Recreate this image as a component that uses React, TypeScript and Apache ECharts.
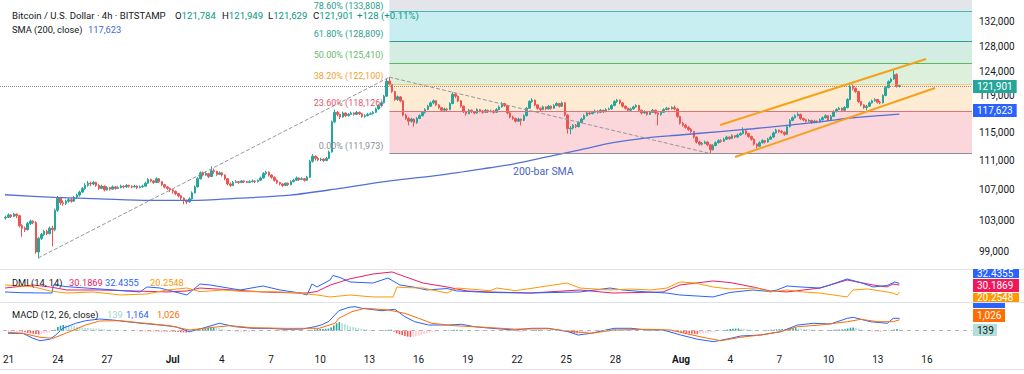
import React, { useEffect, useRef } from "react";
import * as echarts from "echarts";

// ---------- data ----------
// BTC/USD 4h candles. First candle: 21 Jun 00:00, one candle every 4 hours.
// Days are counted from "0 Jun" (1 Jul = 31, 1 Aug = 62).
const FIRST_CANDLE_DAY = 21;
const CANDLE_STEP_DAYS = 1 / 6;
// [open, close, low, high] in thousand USD
const candles: number[][] = [
  [103.3,103.4,103.1,103.6],[103.4,103.7,103.3,103.9],[103.7,103.5,103.3,103.8],[103.5,103.8,103.4,104.0],[103.8,103.6,103.3,103.9],[103.6,102.3,102.1,103.7],
  [102.3,102.0,100.9,102.5],[102.0,101.8,101.5,102.2],[101.8,102.6,101.7,102.8],[102.6,102.9,102.4,103.1],[102.9,102.7,102.5,103.0],[102.7,99.0,98.8,102.9],
  [99.0,100.7,98.2,100.9],[100.7,101.2,100.5,101.4],[101.2,101.6,101.0,101.8],[101.6,101.3,101.1,101.8],[101.3,102.0,101.2,102.2],[102.0,101.8,99.7,102.3],
  [101.8,104.3,101.6,104.5],[104.3,105.9,104.1,106.2],[105.9,105.3,105.0,106.0],[105.3,105.2,104.9,105.6],[105.2,105.5,105.0,105.7],[105.5,105.7,105.3,105.9],
  [105.7,105.5,105.3,105.9],[105.5,106.0,105.4,106.2],[106.0,106.3,105.8,106.5],[106.3,106.7,106.1,106.9],[106.7,107.2,106.6,107.4],[107.2,107.6,107.0,107.9],
  [107.6,107.9,107.4,108.2],[107.9,107.8,107.5,108.1],[107.8,108.0,107.6,108.2],[108.0,107.6,107.4,108.1],[107.6,107.2,107.0,107.8],[107.2,107.5,107.1,107.7],
  [107.5,107.0,106.8,107.6],[107.0,107.3,106.9,107.5],[107.3,107.1,106.9,107.4],[107.1,107.4,107.0,107.6],[107.4,107.2,107.0,107.5],[107.2,107.3,107.1,107.5],
  [107.3,107.5,107.2,107.7],[107.5,107.4,107.2,107.6],[107.4,107.6,107.3,107.8],[107.6,107.5,107.3,107.7],[107.5,107.4,107.2,107.6],[107.4,107.5,107.3,107.7],
  [107.5,107.3,107.1,107.6],[107.3,107.4,107.2,107.6],[107.4,107.5,107.3,107.7],[107.5,107.9,107.4,108.1],[107.9,108.4,107.8,108.6],[108.4,108.2,108.0,108.5],
  [108.2,108.0,107.8,108.3],[108.0,108.5,107.9,108.7],[108.5,108.1,107.9,108.6],[108.1,107.7,107.5,108.2],[107.7,107.4,107.2,107.8],[107.4,107.2,107.0,107.5],
  [107.2,107.0,106.7,107.3],[107.0,106.8,106.5,107.1],[106.8,106.5,106.3,106.9],[106.5,106.2,106.0,106.6],[106.2,105.9,105.6,106.3],[105.9,105.6,105.1,106.0],
  [105.6,105.4,105.1,105.7],[105.4,105.8,105.3,106.0],[105.8,106.6,105.7,106.8],[106.6,107.4,106.5,107.6],[107.4,108.5,107.3,108.7],[108.5,109.3,108.4,109.5],
  [109.3,109.0,108.8,109.5],[109.0,109.2,108.9,109.5],[109.2,108.8,108.6,109.3],[108.8,109.6,108.7,110.2],[109.6,109.5,109.2,109.9],[109.5,109.1,108.9,109.6],
  [109.1,109.3,109.0,109.5],[109.3,109.0,108.8,109.4],[109.0,108.5,108.3,109.1],[108.5,107.8,107.6,108.6],[107.8,107.6,107.4,108.0],[107.6,108.0,107.5,108.2],
  [108.0,108.1,107.9,108.3],[108.1,108.0,107.8,108.2],[108.0,108.2,107.9,108.3],[108.2,108.1,107.9,108.3],[108.1,108.0,107.9,108.2],[108.0,108.1,107.9,108.3],
  [108.1,108.2,108.0,108.4],[108.2,108.1,107.9,108.3],[108.1,108.3,108.0,108.4],[108.3,108.6,108.2,108.8],[108.6,109.2,108.5,109.4],[109.2,109.4,109.0,109.6],
  [109.4,109.0,108.8,109.5],[109.0,108.7,108.5,109.1],[108.7,108.3,108.1,108.8],[108.3,108.0,107.8,108.4],[108.0,107.8,107.6,108.1],[107.8,107.6,107.4,107.9],
  [107.6,107.9,107.5,108.0],[107.9,107.7,107.5,108.0],[107.7,108.1,107.6,108.3],[108.1,108.3,108.0,108.5],[108.3,108.6,108.2,108.8],[108.6,108.4,108.2,108.7],
  [108.4,108.5,108.3,108.7],[108.5,108.3,108.1,108.6],[108.3,108.7,108.2,108.9],[108.7,110.9,108.6,111.1],[110.9,111.6,110.7,111.9],[111.6,111.3,111.0,111.7],
  [111.3,111.1,110.9,111.5],[111.1,111.2,110.9,111.4],[111.2,111.0,110.8,111.3],[111.0,111.3,110.9,111.5],[111.3,112.2,111.2,112.4],[112.2,116.5,112.1,116.7],
  [116.5,117.9,116.3,118.3],[117.9,117.6,117.3,118.1],[117.6,117.2,116.9,117.7],[117.2,117.8,117.1,118.0],[117.8,117.4,117.2,117.9],[117.4,117.6,117.3,117.8],
  [117.6,117.8,117.5,118.0],[117.8,117.6,117.4,117.9],[117.6,117.9,117.5,118.1],[117.9,117.7,117.5,118.0],[117.7,117.3,117.1,117.8],[117.3,117.4,117.1,117.6],
  [117.4,117.6,117.3,117.8],[117.6,117.7,117.5,117.9],[117.7,117.9,117.6,118.1],[117.9,118.4,117.8,118.6],[118.4,118.9,118.3,119.1],[118.9,119.3,118.8,119.5],
  [119.3,120.3,119.2,120.5],[120.3,122.6,120.2,123.0],[122.6,122.1,121.9,123.2],[122.1,121.0,120.8,122.2],[121.0,119.8,119.6,121.1],[119.8,120.2,119.6,120.4],
  [120.2,119.6,119.4,120.3],[119.6,117.5,117.3,119.7],[117.5,117.0,116.8,117.7],[117.0,116.6,116.0,117.2],[116.6,116.9,116.4,117.1],[116.9,116.4,115.8,117.0],
  [116.4,117.0,116.2,117.2],[117.0,117.4,116.9,117.6],[117.4,117.9,117.3,118.1],[117.9,118.3,117.7,118.5],[118.3,118.8,118.2,119.0],[118.8,119.3,118.7,119.5],
  [119.3,119.6,119.1,119.8],[119.6,119.0,118.8,119.7],[119.0,118.6,118.4,119.1],[118.6,118.2,118.0,118.7],[118.2,118.4,118.1,118.6],[118.4,118.3,118.1,118.5],
  [118.3,119.2,118.2,119.4],[119.2,120.6,119.1,120.9],[120.6,120.3,120.0,120.8],[120.3,119.6,119.4,120.4],[119.6,118.8,118.6,119.7],[118.8,118.0,117.8,118.9],
  [118.0,117.7,117.4,118.1],[117.7,118.2,117.6,118.4],[118.2,118.0,117.8,118.3],[118.0,117.8,117.6,118.1],[117.8,118.3,117.7,118.5],[118.3,118.1,117.9,118.4],
  [118.1,117.9,117.7,118.2],[117.9,118.2,117.8,118.4],[118.2,118.0,117.8,118.3],[118.0,118.1,117.9,118.3],[118.1,117.9,117.7,118.2],[117.9,118.3,117.8,118.5],
  [118.3,118.7,118.2,118.9],[118.7,119.2,118.6,119.4],[119.2,118.9,118.7,119.3],[118.9,117.8,117.6,119.0],[117.8,117.2,117.0,117.9],[117.2,117.0,116.8,117.4],
  [117.0,116.6,116.4,117.1],[116.6,116.9,116.5,117.1],[116.9,116.7,116.0,117.0],[116.7,117.4,116.6,117.6],[117.4,118.5,117.3,118.7],[118.5,119.5,118.4,119.7],
  [119.5,119.7,119.3,120.0],[119.7,119.0,118.8,119.8],[119.0,118.5,118.3,119.1],[118.5,118.3,118.1,118.6],[118.3,118.7,118.2,118.9],[118.7,118.4,118.2,118.8],
  [118.4,118.8,118.3,119.0],[118.8,118.5,118.3,118.9],[118.5,118.9,118.4,119.1],[118.9,119.2,118.8,119.4],[119.2,118.8,118.6,119.3],[118.8,119.3,118.7,119.5],
  [119.3,117.5,117.3,119.4],[117.5,115.5,114.8,117.6],[115.5,115.6,114.7,115.9],[115.6,116.0,115.4,116.2],[116.0,115.8,115.6,116.2],[115.8,116.4,115.7,116.6],
  [116.4,116.9,116.3,117.1],[116.9,117.4,116.8,117.6],[117.4,117.8,117.3,118.0],[117.8,117.7,117.5,118.0],[117.7,117.9,117.6,118.1],[117.9,118.1,117.8,118.3],
  [118.1,117.9,117.7,118.2],[117.9,118.2,117.8,118.4],[118.2,118.0,117.8,118.3],[118.0,118.3,117.9,118.5],[118.3,118.4,118.2,118.6],[118.4,118.9,118.3,119.1],
  [118.9,119.5,118.8,119.7],[119.5,119.7,119.3,119.9],[119.7,119.3,119.1,119.8],[119.3,118.8,118.6,119.4],[118.8,118.5,118.3,118.9],[118.5,118.2,118.0,118.6],
  [118.2,118.4,118.1,118.6],[118.4,118.7,118.3,118.9],[118.7,118.9,118.6,119.1],[118.9,118.2,118.0,119.0],[118.2,117.8,117.6,118.3],[117.8,118.0,117.7,118.2],
  [118.0,117.6,117.4,118.1],[117.6,117.9,117.5,118.1],[117.9,118.2,117.8,118.4],[118.2,117.8,117.6,118.3],[117.8,117.6,116.0,117.9],[117.6,117.9,117.4,118.1],
  [117.9,118.3,117.8,118.5],[118.3,118.5,118.2,118.7],[118.5,118.4,118.2,118.6],[118.4,118.6,118.3,118.8],[118.6,118.4,118.2,118.9],[118.4,117.3,117.1,118.5],
  [117.3,116.3,116.1,117.4],[116.3,116.0,115.8,116.5],[116.0,115.7,115.5,116.2],[115.7,115.4,115.2,115.9],[115.4,115.1,114.9,115.6],[115.1,114.3,114.1,115.2],
  [114.3,113.6,113.4,114.4],[113.6,113.3,113.1,113.8],[113.3,113.4,113.1,113.6],[113.4,113.6,113.3,113.8],[113.6,113.2,113.0,113.7],[113.2,112.5,111.973,113.3],
  [112.5,113.1,112.4,113.3],[113.1,113.5,113.0,113.7],[113.5,113.8,113.4,114.0],[113.8,113.7,113.5,114.0],[113.7,114.0,113.6,114.2],[114.0,114.3,113.9,114.5],
  [114.3,114.1,113.9,114.4],[114.1,114.5,114.0,114.7],[114.5,114.3,114.1,114.6],[114.3,114.6,114.2,114.8],[114.6,114.8,114.5,115.0],[114.8,115.2,114.7,115.7],
  [115.2,114.8,114.6,115.3],[114.8,114.4,114.2,114.9],[114.4,114.0,113.8,114.5],[114.0,113.3,113.1,114.1],[113.3,113.0,112.7,113.4],[113.0,113.5,112.9,113.7],
  [113.5,113.8,113.4,114.0],[113.8,113.6,113.4,113.9],[113.6,114.0,113.5,114.2],[114.0,114.3,113.9,114.5],[114.3,114.9,114.2,115.1],[114.9,115.3,114.8,115.5],
  [115.3,115.1,114.9,115.4],[115.1,115.0,114.8,115.3],[115.0,114.7,114.5,115.1],[114.7,115.8,114.6,116.0],[115.8,116.7,115.7,116.9],[116.7,117.1,116.6,117.3],
  [117.1,117.4,117.0,117.6],[117.4,117.6,117.3,117.9],[117.6,117.0,116.8,117.7],[117.0,116.8,116.6,117.1],[116.8,116.6,116.4,116.9],[116.6,116.7,116.5,116.9],
  [116.7,116.4,116.2,116.8],[116.4,116.6,116.3,116.8],[116.6,116.5,116.3,116.7],[116.5,116.8,116.4,117.0],[116.8,117.1,116.7,117.3],[117.1,117.4,117.0,117.6],
  [117.4,116.8,116.6,117.5],[116.8,117.3,116.7,117.5],[117.3,118.0,117.2,118.2],[118.0,118.3,117.9,118.5],[118.3,118.5,118.2,118.7],[118.5,118.2,118.0,118.6],
  [118.2,118.6,118.1,118.8],[118.6,119.8,118.5,120.0],[119.8,121.8,119.7,122.3],[121.8,121.5,121.2,122.1],[121.5,121.0,120.8,121.6],[121.0,119.5,119.3,121.1],
  [119.5,119.0,118.8,119.6],[119.0,118.6,118.4,119.1],[118.6,118.8,118.2,119.0],[118.8,119.3,118.7,119.5],[119.3,119.6,119.2,119.8],[119.6,119.8,119.5,120.0],
  [119.8,119.4,119.2,119.9],[119.4,119.3,119.1,119.6],[119.3,120.4,119.2,120.6],[120.4,121.6,120.3,121.8],[121.6,122.5,121.5,122.7],[122.5,122.9,122.3,123.1],
  [122.9,123.6,122.8,124.4],[123.6,121.78,121.6,123.8],[121.784,121.901,121.629,121.949],
];

// 200-bar SMA, [day, thousand USD]
const smaPoints = [
  [20.96,106.35],[24.0,106.0],[26.74,105.8],[29.78,105.6],[32.21,105.6],[35.25,105.9],[38.29,106.3],[41.33,107.2],
  [44.36,108.2],[47.4,109.0],[50.44,110.0],[51.84,110.5],[53.91,111.5],[55.92,112.5],[57.92,113.5],[59.99,114.2],
  [61.99,114.6],[64.43,115.1],[66.43,115.5],[68.5,116.0],[70.5,116.5],[72.51,117.1],[74.58,117.5],[75.33,117.623],
];

// DMI (14,14): [day, value]
const adxPoints = [
  [20.96,25.9],[22.66,30.2],[23.7,27.4],[24.73,23.1],[26.74,23.1],[28.8,21.7],[30.81,20.3],[32.02,21.7],[32.81,25.9],
  [34.82,23.1],[36.64,20.3],[38.89,18.8],[39.32,18.8],[39.93,21.0],[40.72,30.0],[41.93,39.0],[43.33,45.8],[44.49,48.7],
  [45.16,43.0],[46.37,33.0],[47.83,27.4],[49.05,21.7],[50.44,20.3],[52.88,18.8],[55.92,23.1],[57.92,18.8],[60.96,20.3],
  [61.99,30.2],[64.0,35.9],[65.03,33.7],[66.43,27.4],[67.46,21.7],[68.5,20.3],[70.5,25.9],[72.15,37.3],[73.73,30.2],
  [74.58,27.4],[74.94,31.6],[75.33,30.1869],
];
const plusDiPoints = [
  [20.96,20.3],[21.87,19.3],[23.4,18.8],[23.82,18.8],[23.9,30.2],[24.73,27.8],[26.74,24.5],[29.17,20.3],[29.59,27.4],
  [30.38,25.9],[32.02,16.0],[32.81,31.6],[33.42,30.2],[35.25,23.1],[36.64,28.8],[37.68,23.1],[38.89,18.8],[39.32,16.0],
  [39.62,31.6],[39.93,27.4],[40.72,37.3],[40.9,43.7],[41.33,40.8],[41.93,34.5],[43.33,33.0],[44.24,40.1],[44.97,30.2],
  [45.76,27.4],[46.61,23.1],[47.83,25.2],[48.44,21.7],[50.44,19.6],[52.88,18.8],[55.92,20.3],[57.74,25.9],[58.5,23.1],
  [59.99,20.3],[61.2,18.8],[61.99,16.0],[64.0,13.2],[65.03,19.6],[66.43,23.1],[67.46,20.9],[67.89,23.1],[68.5,28.8],
  [69.29,27.4],[70.5,25.9],[71.11,30.2],[72.15,38.7],[72.97,33.7],[73.73,27.4],[74.58,29.5],[75.06,34.5],[75.33,32.4355],
];
const minusDiPoints = [
  [20.96,30.2],[22.66,27.8],[23.7,21.7],[24.73,18.8],[26.3,20.3],[28.0,16.0],[29.59,17.4],[30.81,23.1],[32.02,25.9],
  [32.81,20.7],[34.2,23.1],[35.6,20.7],[37.25,20.7],[38.89,18.8],[39.32,17.4],[39.93,16.0],[40.72,13.2],[41.93,16.0],
  [43.33,13.2],[44.55,13.2],[44.79,27.4],[45.16,26.6],[46.37,25.9],[47.83,18.8],[48.44,25.9],[50.44,22.1],[50.87,25.9],
  [52.0,22.1],[55.12,33.0],[55.92,25.9],[57.74,23.1],[59.0,24.5],[60.2,23.1],[61.2,25.9],[61.99,34.5],[62.9,33.0],
  [64.0,27.4],[65.03,24.5],[66.67,25.9],[67.46,20.3],[68.5,23.1],[69.5,20.3],[70.5,18.8],[72.15,13.2],[72.51,23.1],
  [73.4,24.5],[74.2,21.7],[74.94,18.8],[75.2,16.0],[75.33,20.2548],
];

// MACD (12,26,close): [day, value]
const macdPoints = [
  [20.96,-244],[21.87,-250],[22.48,-714],[22.91,-940],[23.51,-808],[23.88,-404],[24.3,226],[25.09,696],[25.7,940],
  [26.55,1100],[27.34,1006],[28.74,752],[30.2,536],[31.17,376],[32.02,-94],[32.81,226],[33.85,696],[34.82,376],
  [35.85,226],[36.89,220],[37.86,132],[38.89,150],[39.68,376],[40.1,560],[40.53,880],[41.14,1880],[41.75,2200],
  [42.12,2256],[42.54,2106],[43.76,1880],[44.55,2012],[45.16,1316],[45.76,846],[46.61,536],[47.83,536],[48.62,602],
  [49.41,376],[50.44,226],[51.84,66],[52.88,226],[53.91,226],[55.12,-94],[55.73,-404],[56.52,-244],[57.92,226],
  [58.95,226],[59.99,66],[60.96,40],[61.99,-404],[63.02,-808],[64.0,-1034],[65.03,-714],[65.64,-498],[66.86,-404],
  [68.07,-94],[69.11,536],[70.08,696],[71.11,630],[72.15,1166],[72.51,1260],[73.54,846],[74.58,696],[74.94,1166],[75.33,1164],
];
const signalPoints = [
  [20.96,-150],[21.87,-244],[22.91,-620],[23.7,-714],[24.73,-94],[25.7,536],[26.55,912],[27.77,940],[29.35,696],
  [30.81,470],[32.02,66],[33.24,282],[34.46,470],[35.85,282],[37.86,220],[39.93,226],[40.9,696],[41.14,1166],
  [41.93,1786],[42.72,2106],[44.18,1946],[45.16,1636],[46.01,1166],[46.8,696],[48.2,470],[50.44,282],[51.84,150],
  [53.91,180],[55.49,-94],[56.52,-244],[57.92,66],[59.99,130],[61.38,66],[62.41,-310],[63.63,-714],[64.43,-940],
  [65.64,-620],[66.86,-404],[68.07,-94],[69.11,376],[70.5,536],[72.15,846],[72.97,1072],[73.99,846],[74.94,846],[75.33,1026],
];
// MACD histogram, one value per candle
const histValues = [
  -40,-50,-50,-60,-60,-80, -150,-200,-250,-280,-300,-350, -300,-250,-200,-150,-20,
  100,350,480,530,520,500,450,420,380,330, 300,280,260,240,220,200,180,160,
  140,120,100,80,70,60,50,40,30,20,10,
  -20,-30,-40,-40,-50,-50,-60,-60,-60,-70,-70,-70,-80,-80,-90,
  -110,-130,-150,-160,-170,-160, -100,-40,30,100,160,200, 250,270,280,260,230,
  150,100,50,0,-30,-50,-60,
  -60,-60,-50,-50,-40,-40,-30,-30,-20,-10,0,0,-10,-20,-30,-40,-40,-40,-30,-30,-20,-20,-10,-10,0,10,
  60,120,150,160,170,180,200,300,500,700,
  800,700,600,500,420,350,300,250,200,160,120,80,40,20,
  10,20,40,60,90,100,
  -100,-250,-350,-420,-500,-560,-580,-560,-520,-460,-400,-330,-260,-200,-140,-90,
  -50,-20,0,20,40,60,80,90,80,
  60,40,20,0,-10,-20,-30,-30,-30,-30,-20,-20,-10,-10,0,
  10,20,10,-10,-30,-50,-60,-60,-40,-10,20,50,60,60,50,40,30,20,20,10,
  0,0,-10,-60,-140,-200,-230,-240,-220,-190,-150,-110,-70,-40,-10,
  20,40,60,80,100,120,130,120,100,80,60,40,30,20,10,0,-10,-20,-20,-20,
  -20,-20,-30,-30,-40,-40,-50,-60,-80,
  -110,-150,-190,-230,-260,-280,-300,-300,
  -290,-270,-240,-210,-170,-130,
  -80,-30,20,70,
  110,150,180,200,210,200,180,150,110,70,40,20,10,20,40,60,80,100,
  120,140,150,140,160,200,230,240,230,210,180,150,
  120,100,80,60,50,40,30,40,60,80,100,110,120,130,
  200,280,300,270,200,120,50,0,
  -30,-50,-60,-60,-60,-50,-20,30,
  80,120,150,139,
];

const priceTicks = [99000, 103000, 107000, 111000, 115000, 119000, 124000, 128000, 132000];
const dayTicks = [21, 24, 27, 31, 34, 37, 40, 43, 46, 49, 52, 55, 58, 62, 65, 68, 71, 74, 77];

// Fibonacci retracement (log) levels, USD
const fibLevelNames = ["0.00%", "23.60%", "38.20%", "50.00%", "61.80%", "78.60%", "100.00%"];
const fibLevelValues = [111973, 118126, 122100, 125410, 128809, 133808, 140470];
const fibStartDay = 44.33; // peak candle (14 Jul)

// drawn trend lines [day, USD]
const swingLowToPeak = [[22.97, 98260], [44.33, 123200]];
const peakToLow = [[44.33, 123200], [63.83, 111973]];
const channelUpper = [[64.43, 116040], [76.95, 126030]];
const channelLower = [[65.34, 111490], [77.5, 121550]];

const lastClose = 121901;
const lastSma = 117623;

// ---------- layout / style ----------
const PRICE_TOP = 135682;
const PRICE_BOTTOM = 96917;
const DAY_MIN = 20.6565;
const DAY_MAX = 79.745;
const FONT = "Roboto, 'Noto Sans', sans-serif";
const TXT = "#131722";
const UP = "#26a69a";
const DOWN = "#ef5350";
const BLUE = "#2962ff";
const PINK = "#e91e63";
const ORANGE = "#ff9800";
const MACD_ORANGE = "#ff6d00";

const fibLineColors = ["#8c8f99", "#e0707a", "#f5a623", "#5cb85c", "#2f9e8f", "#4bb6b0", "#9598a1"];
const fibTextColors = ["#8c8f99", "#e05a6b", "#f0a030", "#66bb6a", "#2a9d8f", "#2a9d8f", "#8c8f99"];
const fibZoneColors = ["#fbd7db", "#fdebd3", "#dcf0dc", "#d3ede3", "#c9eef2", "#e4e5ea"];

const L = Math.log;

function dayLabel(v: number): string {
  const d = Math.round(v);
  if (d <= 30) return String(d);
  if (d <= 61) return d === 31 ? "{m|Jul}" : String(d - 30);
  return d === 62 ? "{m|Aug}" : String(d - 61);
}

function buildOption() {
  const candleData = candles.map((c, i) => [
    FIRST_CANDLE_DAY + i * CANDLE_STEP_DAYS,
    L(c[0] * 1000), L(c[1] * 1000), L(c[2] * 1000), L(c[3] * 1000),
  ]);
  const histData = histValues.map((v, i) => {
    const prev = i > 0 ? histValues[i - 1] : v;
    let color;
    if (v >= 0) color = v >= prev ? "#26a69a" : "#b2dfdb";
    else color = v <= prev ? "#ff5252" : "#ffcdd2";
    return { value: [FIRST_CANDLE_DAY + i * CANDLE_STEP_DAYS, v], itemStyle: { color } };
  });

  const zones = [];
  for (let k = 0; k < fibZoneColors.length; k++) {
    zones.push([
      { coord: [fibStartDay, L(fibLevelValues[k])], itemStyle: { color: fibZoneColors[k] } },
      { coord: [DAY_MAX, L(Math.min(fibLevelValues[k + 1], PRICE_TOP))] },
    ]);
  }

  const fibLines = [];
  for (let k = 0; k < 6; k++) {
    fibLines.push([
      {
        coord: [fibStartDay, L(fibLevelValues[k])],
        lineStyle: { color: fibLineColors[k], width: 1, type: k === 2 ? "dotted" : "solid" },
      },
      { coord: [DAY_MAX, L(fibLevelValues[k])] },
    ]);
  }
  const seg = (pts: number[][], color: string, type: string, width: number) => [
    { coord: [pts[0][0], L(pts[0][1])], lineStyle: { color, type, width } },
    { coord: [pts[1][0], L(pts[1][1])] },
  ];

  const xAxisBase = { type: "value", min: DAY_MIN, max: DAY_MAX, splitLine: { show: false } };

  return {
    animation: false,
    backgroundColor: "#ffffff",
    textStyle: { fontFamily: FONT },
    grid: [
      { left: 0, right: 52, top: 0, height: 269 },
      { left: 0, right: 52, top: 270, height: 32 },
      { left: 0, right: 52, top: 303, height: 45 },
    ],
    xAxis: [
      { ...xAxisBase, gridIndex: 0, show: false },
      { ...xAxisBase, gridIndex: 1, show: false },
      {
        ...xAxisBase, gridIndex: 2,
        axisLine: { show: false }, axisTick: { show: false },
        axisLabel: {
          customValues: dayTicks, formatter: dayLabel, margin: 6,
          fontSize: 10, color: TXT, fontFamily: FONT,
          rich: { m: { fontWeight: "bold", fontSize: 10, color: TXT, fontFamily: FONT } },
        },
      },
    ],
    yAxis: [
      {
        type: "value", gridIndex: 0, position: "right",
        min: L(PRICE_BOTTOM), max: L(PRICE_TOP),
        splitLine: { show: false }, axisLine: { show: false }, axisTick: { show: false },
        axisLabel: {
          customValues: priceTicks.map((p) => L(p)), margin: 7,
          fontSize: 10, color: TXT, fontFamily: FONT,
          formatter: (v: number) => {
            const p = Math.round(Math.exp(v) / 1000) * 1000;
            const s = p.toLocaleString("en-US");
            return p === 119000 ? `{up|${s}}` : s;
          },
          rich: { up: { padding: [0, 0, 18, 0], fontSize: 10, color: TXT, fontFamily: FONT } },
        },
      },
      { type: "value", gridIndex: 1, min: 6.05, max: 51.5, show: false },
      { type: "value", gridIndex: 2, min: -1626, max: 2604, show: false },
    ],
    series: [
      {
        type: "candlestick", name: "BTCUSD", xAxisIndex: 0, yAxisIndex: 0,
        data: candleData, encode: { x: 0, y: [1, 2, 3, 4] },
        barWidth: 2, large: false,
        itemStyle: { color: UP, color0: DOWN, borderColor: UP, borderColor0: DOWN, borderWidth: 1 },
        markArea: { silent: true, z: 1, data: zones },
        markLine: {
          silent: true, symbol: ["none", "none"], z: 5,
          label: { show: false },
          data: [
            ...fibLines,
            {
              yAxis: L(lastClose),
              lineStyle: { color: "#8a8f9c", type: "dotted", width: 1 },
              label: {
                show: true, position: "end", distance: 1,
                formatter: lastClose.toLocaleString("en-US"),
                backgroundColor: UP, color: "#fff", padding: [1, 4, 1, 4],
                fontSize: 10, lineHeight: 11, fontFamily: FONT,
              },
            },
            seg(swingLowToPeak, "#9598a1", "dashed", 1),
            seg(peakToLow, "#9598a1", "dashed", 1),
            seg(channelUpper, "#f5a21b", "solid", 2),
            seg(channelLower, "#f5a21b", "solid", 2),
          ],
        },
        z: 3,
      },
      {
        type: "line", name: "SMA 200", xAxisIndex: 0, yAxisIndex: 0,
        data: smaPoints.map(([d, p]) => [d, L(p * 1000)]),
        showSymbol: false, smooth: 0.3,
        lineStyle: { color: "#5470d6", width: 1.3 }, z: 4,
        markLine: {
          silent: true, symbol: ["none", "none"],
          data: [{
            yAxis: L(lastSma),
            lineStyle: { color: "rgba(0,0,0,0)", width: 0 },
            label: {
              show: true, position: "end", distance: 1,
              formatter: lastSma.toLocaleString("en-US"),
              backgroundColor: BLUE, color: "#fff", padding: [1, 4, 1, 4],
              fontSize: 10, lineHeight: 11, fontFamily: FONT,
            },
          }],
        },
      },
      {
        type: "line", name: "ADX", xAxisIndex: 1, yAxisIndex: 1, data: adxPoints,
        showSymbol: false, lineStyle: { color: PINK, width: 1 },
      },
      {
        type: "line", name: "+DI", xAxisIndex: 1, yAxisIndex: 1, data: plusDiPoints,
        showSymbol: false, lineStyle: { color: BLUE, width: 1 },
      },
      {
        type: "line", name: "-DI", xAxisIndex: 1, yAxisIndex: 1, data: minusDiPoints,
        showSymbol: false, lineStyle: { color: ORANGE, width: 1 },
      },
      {
        type: "bar", name: "Histogram", xAxisIndex: 2, yAxisIndex: 2, data: histData,
        barWidth: 1.6,
        markLine: {
          silent: true, symbol: ["none", "none"], label: { show: false },
          data: [{ yAxis: 0, lineStyle: { color: "#b2b5be", type: [4, 4], width: 1 } }],
        },
      },
      {
        type: "line", name: "MACD", xAxisIndex: 2, yAxisIndex: 2, data: macdPoints,
        showSymbol: false, lineStyle: { color: BLUE, width: 1 },
      },
      {
        type: "line", name: "Signal", xAxisIndex: 2, yAxisIndex: 2, data: signalPoints,
        showSymbol: false, lineStyle: { color: MACD_ORANGE, width: 1 },
      },
    ],
  };
}

function text(x: number, y: number, t: string, fill: string, size = 10, extra: any = {}) {
  return {
    type: "text", x, y, silent: true, z: 100,
    style: { text: t, fill, fontSize: size, fontFamily: FONT, verticalAlign: "middle", align: "left", ...extra },
  };
}
function badge(x: number, y: number, w: number, h: number, bg: string, t: string, fg = "#fff") {
  return [
    { type: "rect", silent: true, z: 100, shape: { x, y, width: w, height: h }, style: { fill: bg } },
    text(x + 4, y + h / 2, t, fg, 10, {}),
  ];
}

function buildGraphics(chart: any) {
  const sep = (y: number) => ({
    type: "line", silent: true, z: 90,
    shape: { x1: 0, y1: y, x2: 1024, y2: y },
    style: { stroke: "#e0e3eb", lineWidth: 1 },
  });
  const LEG = 9.6;
  const ohlcRich = {
    k: { fill: TXT, fontSize: LEG, fontFamily: FONT },
    v: { fill: "#089981", fontSize: LEG, fontFamily: FONT },
  };
  const ohlc = (x: number, k: string, v: string) => ({
    type: "text", x, y: 15, silent: true, z: 100,
    style: { text: `{k|${k}}{v|${v}}`, rich: ohlcRich, verticalAlign: "middle", fontSize: LEG, fontFamily: FONT },
  });

  // Fibonacci level labels: right-aligned just left of the retracement's start, above each level
  const fibLabels = [];
  for (let k = 0; k < 6; k++) {
    const p = chart.convertToPixel({ gridIndex: 0 }, [fibStartDay, L(fibLevelValues[k])]);
    const y = Math.max(p[1] - 8, 5.5);
    fibLabels.push(
      text(p[0] - 6, y, `${fibLevelNames[k]} (${fibLevelValues[k].toLocaleString("en-US")})`,
        fibTextColors[k], 9, { align: "right" })
    );
  }

  const PANE = 9.3;
  return [
    sep(269.5), sep(302.5), sep(369.5),
    ...fibLabels,
    text(12, 15, "Bitcoin / U.S. Dollar · 4h · BITSTAMP", TXT, LEG),
    ohlc(175, "O", "121,784"),
    ohlc(222, "H", "121,949"),
    ohlc(268, "L", "121,629"),
    ohlc(313, "C", "121,901"),
    text(357, 15, "+128 (+0.11%)", "#089981", LEG),
    text(12, 29.5, "SMA (200, close)", TXT, 9.3),
    text(88, 29.5, "117,623", "#3d6ae0", 9.3),
    text(513, 171, "200-bar SMA", "#4a64c8", 10.5),
    text(12, 282, "DMI (14, 14)", TXT, PANE),
    text(69, 282, "30.1869", PINK, PANE),
    text(105, 282, "32.4355", BLUE, PANE),
    text(150, 282, "20.2548", ORANGE, PANE),
    text(12, 314.5, "MACD (12, 26, close)", TXT, PANE),
    text(107, 314.5, "139", "#9ed6cf", PANE),
    text(126, 314.5, "1,164", BLUE, PANE),
    text(157, 314.5, "1,026", MACD_ORANGE, PANE),
    ...badge(973, 269, 46, 9, BLUE, "32.4355"),
    ...badge(973, 279, 46, 13, "#f0185a", "30.1869"),
    ...badge(973, 293, 46, 9, ORANGE, "20.2548"),
    { type: "rect", silent: true, z: 100, shape: { x: 973, y: 303, width: 32, height: 5 }, style: { fill: BLUE } },
    ...badge(973, 309, 32, 13, MACD_ORANGE, "1,026"),
    ...badge(973, 324, 24, 12, "#b2dfdb", "139", TXT),
  ];
}

export default function App() {
  const ref = useRef<HTMLDivElement>(null);
  useEffect(() => {
    document.body.style.margin = "0";
    if (!ref.current) return;
    const chart = echarts.init(ref.current, undefined, { renderer: "svg" });
    chart.setOption(buildOption() as any);
    chart.setOption({ graphic: buildGraphics(chart) } as any);
    return () => chart.dispose();
  }, []);
  return <div ref={ref} style={{ width: 1024, height: 374, background: "#fff" }} />;
}
